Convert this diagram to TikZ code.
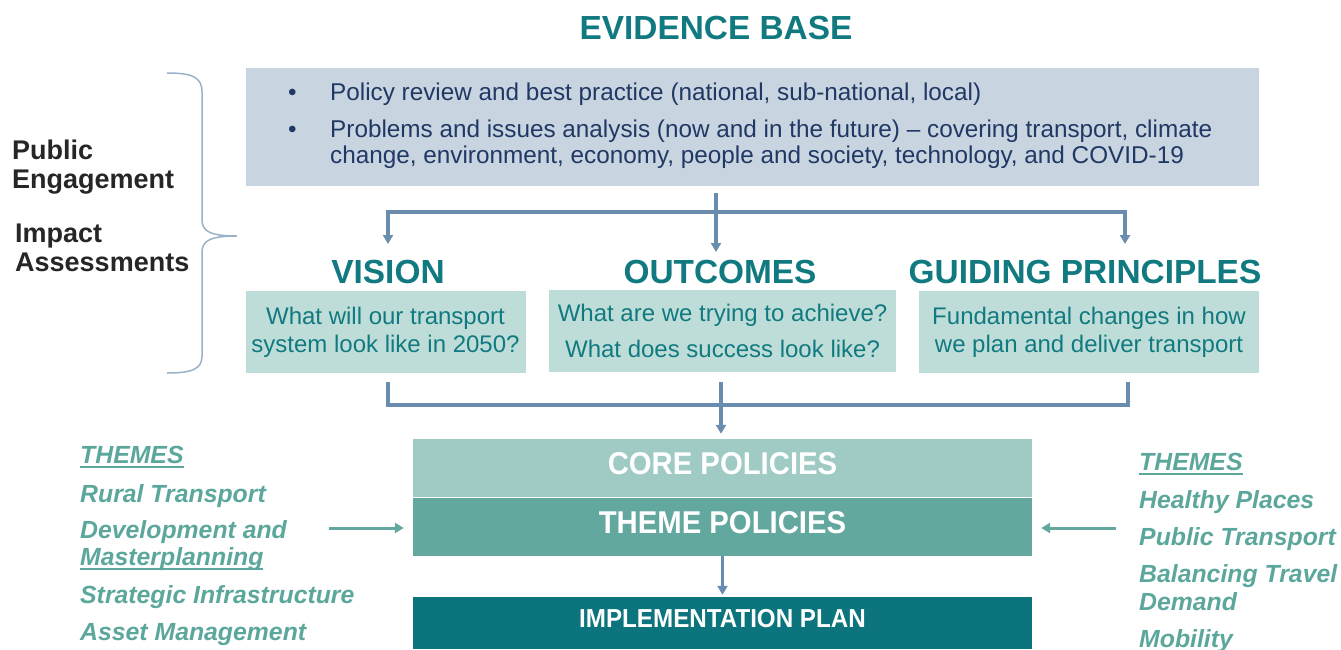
\documentclass[tikz,border=0pt]{standalone}
\usepackage{fontspec}
\setmainfont{Liberation Sans}
\newfontfamily\narrowfont{Liberation Sans}[FakeStretch=0.93]
\usetikzlibrary{arrows.meta}
\usetikzlibrary{positioning}
\definecolor{evteal}{HTML}{117A80}
\definecolor{evgrey}{HTML}{C8D4E0}
\definecolor{evnavy}{HTML}{203864}
\definecolor{boxteal}{HTML}{BEDDD8}
\definecolor{steel}{HTML}{6A8CAF}
\definecolor{bracecol}{HTML}{9AB2C9}
\definecolor{coreteal}{HTML}{A0CBC5}
\definecolor{themeteal}{HTML}{62A89F}
\definecolor{implteal}{HTML}{0B747C}
\definecolor{themetext}{HTML}{5CA79C}
\definecolor{darktext}{HTML}{262626}
\tikzstyle{heading} = [font=\bfseries\fontsize{33.4}{36}\selectfont, text=evteal, anchor=base, inner sep=0pt]
\tikzstyle{evline} = [font=\fontsize{24.3}{27}\selectfont, text=evnavy, anchor=base west, inner sep=0pt]
\tikzstyle{question} = [rectangle, fill=boxteal, text=evteal, font=\fontsize{24}{28}\selectfont, align=center, minimum height=82pt, inner sep=0pt]
\tikzstyle{policy} = [rectangle, minimum width=619pt, minimum height=58pt, text=white, text depth=9pt, font=\narrowfont\bfseries\fontsize{31.5}{34}\selectfont, inner sep=0pt]
\tikzstyle{side} = [font=\bfseries\fontsize{27}{29}\selectfont, text=darktext, anchor=base west, inner sep=0pt]
\tikzstyle{theme} = [font=\bfseries\itshape\fontsize{24.8}{27}\selectfont, text=themetext, anchor=base west, inner sep=0pt]
\tikzstyle{joinline} = [draw=steel, line width=3.2pt]
\tikzstyle{link} = [joinline, -{Triangle[width=10pt,length=9pt]}]
\tikzstyle{feed} = [draw=themeteal, line width=3pt, -{Triangle[width=10pt,length=9pt]}]
\newcommand{\uthm}[1]{\setbox0\hbox{#1}\rlap{\rule[-5pt]{\wd0}{2.5pt}}\box0}

\begin{document}
\begin{tikzpicture}[x=1pt, y=-1pt]
  \useasboundingbox (0,0) rectangle (1341,649);
  % evidence base
  \node[heading] (evtitle) at (716,39) {EVIDENCE BASE};
  \node[rectangle, fill=evgrey, minimum width=1013pt, minimum height=118pt, inner sep=0pt] (evid) at (752.5,127) {};
  \node[evline] (bul1) at (288,100) {\textbullet};
  \node[evline] (ev1) at (330,100) {Policy review and best practice (national, sub-national, local)};
  \node[evline] (bul2) at (288,137) {\textbullet};
  \node[evline] (ev2) at (330,137) {Problems and issues analysis (now and in the future) – covering transport, climate};
  \node[evline] (ev3) at (330,163) {change, environment, economy, people and society, technology, and COVID-19};
  % engagement brace
  \node[side] (pub1) at (12,159) {Public};
  \node[side] (pub2) at (12,188) {Engagement};
  \node[side] (imp1) at (15,242) {Impact};
  \node[side] (imp2) at (15,271) {Assessments};
  \draw[bracecol, line width=1.5pt] (167,73) .. controls (192,73) and (202,77) .. (202,92) -- (202,220)
    .. controls (202,232) and (212,236) .. (237,236) .. controls (212,236) and (202,240) .. (202,252)
    -- (202,356) .. controls (202,369) and (192,373) .. (167,373);
  % vision, outcomes, principles
  \node[heading] (vistitle) at (388,283) {VISION};
  \node[heading] (outtitle) at (720,283) {OUTCOMES};
  \node[heading] (guititle) at (1085,283) {GUIDING PRINCIPLES};
  \node[question, minimum width=280pt] (visbox) at (385.5,332) {What will our transport\\system look like in 2050?};
  \node[question, minimum width=347pt] (outbox) at (722.5,331) {What are we trying to achieve?\\[8pt]What does success look like?};
  \node[question, minimum width=340pt] (guibox) at (1089,332) {Fundamental changes in how\\we plan and deliver transport};
  \coordinate (split) at (716,212);
  \coordinate (vistip) at (388,244);
  \coordinate (outtip) at (716,252);
  \coordinate (guitip) at (1125,244);
  \draw[joinline, shorten <=7pt] (evid.south -| split) -- (split);
  \draw[link, {Triangle[width=10pt,length=9pt]}-{Triangle[width=10pt,length=9pt]}] (vistip) |- (split) -| (guitip);
  \draw[link] (split) -- (outtip);
  \coordinate (visout) at (388,382);
  \coordinate (outout) at (721,382);
  \coordinate (guiout) at (1128,382);
  \coordinate (merge) at (721,405);
  \draw[joinline] (visout) |- (merge) -| (guiout);
  % policies
  \node[policy, fill=coreteal] (core) at (722.5,468) {CORE POLICIES};
  \node[policy, fill=themeteal] (themepol) at (722.5,526.5) {THEME POLICIES};
  \node[policy, fill=implteal, minimum height=52pt, font=\narrowfont\bfseries\fontsize{26}{30}\selectfont] (impl) at (722.5,623) {IMPLEMENTATION PLAN};
  \draw[link, shorten >=5pt] (outout) -- (core.north -| outout);
  \draw[link, shorten >=2pt] (themepol.south) -- (impl.north);
  % themes
  \node[theme] (lthemes) at (80,463) {\uthm{THEMES}};
  \node[theme] (lrural) at (80,502) {Rural Transport};
  \node[theme] (ldev) at (80,538) {Development and};
  \node[theme] (lmaster) at (80,565) {\uthm{Masterplanning}};
  \node[theme] (lstrat) at (80,603) {Strategic Infrastructure};
  \node[theme] (lasset) at (80,640) {Asset Management};
  \node[theme] (rthemes) at (1139,470) {\uthm{THEMES}};
  \node[theme] (rhealth) at (1139,508) {Healthy Places};
  \node[theme] (rpublic) at (1139,545) {Public Transport};
  \node[theme] (rbal) at (1139,582) {Balancing Travel};
  \node[theme] (rdemand) at (1139,610) {Demand};
  \node[theme] (rmob) at (1139,647) {Mobility};
  \coordinate (lfeed) at (329,528);
  \coordinate (rfeed) at (1116,528);
  \draw[feed, shorten >=9pt] (lfeed) -- (lfeed -| themepol.west);
  \draw[feed, shorten >=9pt] (rfeed) -- (rfeed -| themepol.east);
\end{tikzpicture}
\end{document}
